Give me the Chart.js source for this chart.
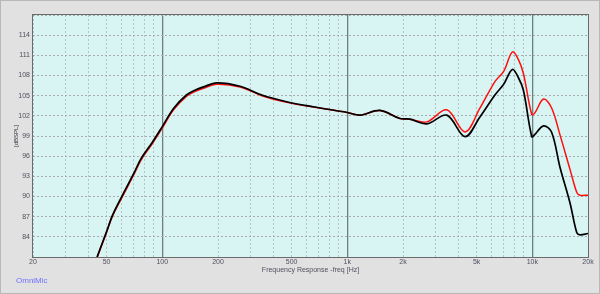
<!DOCTYPE html>
<html>
<head>
<meta charset="utf-8">
<script src="https://cdn.jsdelivr.net/npm/chart.js@4.4.1/dist/chart.umd.min.js"></script>
<style>
  html, body { margin: 0; padding: 0; background: #e1e1e1; }
  #wrap { width: 600px; height: 294px; position: relative; }
</style>
</head>
<body>
<div id="wrap"><canvas id="frChart" width="600" height="294"></canvas></div>
<script>
// frequencies in Hz, shared by both traces
var freqs = [44.4, 50, 54, 62, 70, 77, 88, 100, 115, 135, 150, 167, 196, 263, 345, 470, 654,
    1000, 1170, 1500, 1926, 2180, 2690, 3450, 4330, 5200, 6280, 7000, 7800, 8400, 8950,
    9930, 10300, 11500, 12700, 14100, 16000, 17400, 18100, 20000];

// dBSPL
var blackTrace = [81, 84.8, 87.3, 90.6, 93.4, 95.7, 98.0, 100.4, 103.1, 105.1, 105.8, 106.3, 106.9, 106.4, 105.1, 104.1, 103.35,
    102.5, 102.1, 102.8, 101.6, 101.5, 100.8, 102.1, 98.9, 101.8, 105.1, 106.7, 108.9, 107.7, 105.8,
    98.9, 99.2, 100.5, 99.6, 94.4, 89, 84.6, 84.3, 84.5];
var redTrace = [80.9, 84.7, 87.2, 90.4, 93.2, 95.5, 97.8, 100.2, 102.9, 104.9, 105.6, 106.1, 106.7, 106.3, 105.0, 104.0, 103.3,
    102.5, 102.1, 102.8, 101.6, 101.5, 101.1, 102.9, 99.6, 103.1, 107.1, 108.6, 111.5, 110.4, 108.3,
    102.2, 102.4, 104.5, 103.2, 99.2, 94.0, 90.6, 90.2, 90.2];

var xGrid = [20, 30, 40, 50, 60, 70, 80, 90, 100, 200, 300, 400, 500, 600, 700, 800, 900,
    1000, 2000, 3000, 4000, 5000, 6000, 7000, 8000, 9000, 10000, 20000];
var xMajor = [100, 1000, 10000];
var xLabels = { 20: '20', 50: '50', 100: '100', 200: '200', 500: '500', 1000: '1k', 2000: '2k', 5000: '5k', 10000: '10k', 20000: '20k' };

var labelFont = '"Liberation Sans", Arial, sans-serif';

function toPoints(vals) {
    return freqs.map(function (f, i) { return { x: f, y: vals[i] }; });
}

function isMajor(c) {
    return !!(c.tick && xMajor.indexOf(c.tick.value) >= 0);
}

var frame = {
    id: 'frame',
    beforeDraw: function (chart) {
        var ctx = chart.ctx, a = chart.chartArea;
        ctx.save();
        ctx.fillStyle = '#e1e1e1';
        ctx.fillRect(0, 0, chart.width, chart.height);
        ctx.strokeStyle = '#b8b8b8';
        ctx.lineWidth = 1;
        ctx.strokeRect(0.5, 0.5, chart.width - 1, chart.height - 1);
        ctx.fillStyle = '#d8f5f4';
        ctx.fillRect(a.left, a.top, a.right - a.left, a.bottom - a.top);
        ctx.restore();
    },
    afterDraw: function (chart) {
        var ctx = chart.ctx, a = chart.chartArea;
        ctx.save();
        ctx.strokeStyle = '#6a6a6a';
        ctx.lineWidth = 1;
        ctx.strokeRect(a.left - 0.5, a.top - 0.5, a.right - a.left + 1, a.bottom - a.top + 1);
        // axis titles
        ctx.fillStyle = '#505060';
        ctx.font = '7px ' + labelFont;
        ctx.textAlign = 'center';
        ctx.textBaseline = 'middle';
        ctx.fillText('Frequency Response -freq [Hz]', (a.left + a.right) / 2, 270);
        ctx.save();
        ctx.translate(16, (a.top + a.bottom) / 2);
        ctx.rotate(-Math.PI / 2);
        ctx.fillStyle = '#303040';
        ctx.font = '6px ' + labelFont;
        ctx.fillText('[dBSPL]', 0, 0);
        ctx.restore();
        ctx.textAlign = 'left';
        ctx.fillStyle = '#7070ff';
        ctx.font = '8px ' + labelFont;
        ctx.fillText('OmniMic', 16, 281);
        ctx.restore();
    }
};

new Chart(document.getElementById('frChart').getContext('2d'), {
    type: 'line',
    data: {
        datasets: [{
            label: 'black',
            data: toPoints(blackTrace),
            borderColor: '#000000',
            borderWidth: 1.7,
            pointRadius: 0,
            tension: 0.35,
            fill: false
        }, {
            label: 'red',
            data: toPoints(redTrace),
            borderColor: '#ff1010',
            borderWidth: 1.5,
            pointRadius: 0,
            tension: 0.35,
            fill: false
        }]
    },
    options: {
        responsive: false,
        animation: false,
        events: [],
        layout: { padding: { left: 0, right: 12, top: 15, bottom: 0 } },
        plugins: { legend: { display: false }, tooltip: { enabled: false } },
        scales: {
            x: {
                type: 'logarithmic',
                min: 20,
                max: 20000,
                afterBuildTicks: function (scale) {
                    scale.ticks = xGrid.map(function (v) { return { value: v }; });
                },
                afterFit: function (scale) { scale.height = 37; },
                ticks: {
                    autoSkip: false,
                    maxRotation: 0,
                    padding: 1,
                    color: '#505060',
                    font: { family: labelFont, size: 7 },
                    callback: function (v) { return xLabels[v] || ''; }
                },
                grid: {
                    drawTicks: false,
                    color: function (c) { return isMajor(c) ? '#6f7f7f' : '#b4c4c4'; },
                    lineWidth: function (c) { return isMajor(c) ? 1.3 : 1; }
                },
                border: {
                    display: false,
                    dash: function (c) { return isMajor(c) ? [] : [2, 2]; }
                }
            },
            y: {
                min: 81,
                max: 117,
                afterFit: function (scale) { scale.width = 33; },
                ticks: {
                    stepSize: 3,
                    padding: 3,
                    color: '#505060',
                    font: { family: labelFont, size: 7 },
                    callback: function (v) { return (v === 81 || v === 117) ? '' : v; }
                },
                grid: {
                    drawTicks: false,
                    color: '#a4aeae'
                },
                border: { display: false, dash: [2, 2] }
            }
        }
    },
    plugins: [frame]
});
</script>
</body>
</html>
